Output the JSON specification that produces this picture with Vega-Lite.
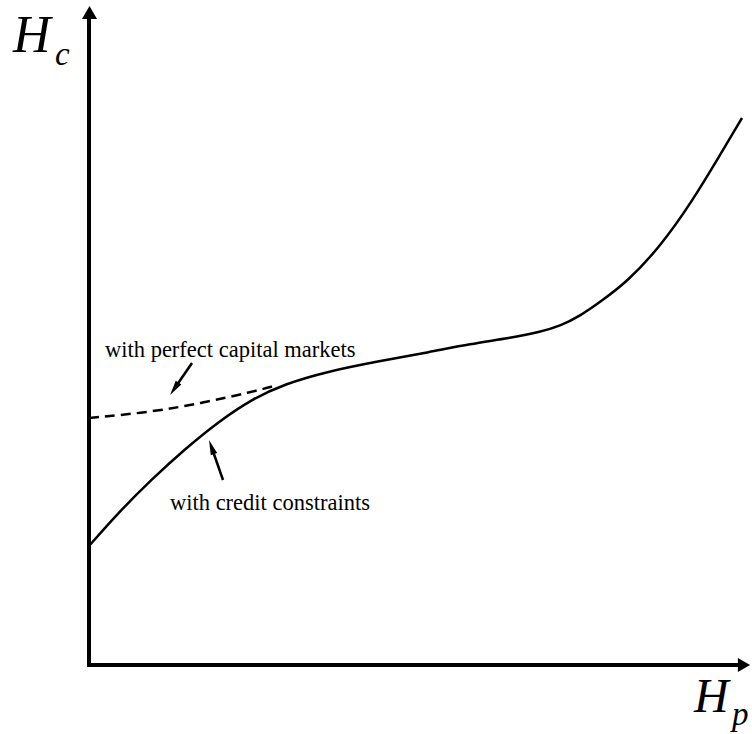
{
  "$schema": "https://vega.github.io/schema/vega-lite/v6.json",
  "width": 752,
  "height": 734,
  "autosize": "none",
  "padding": 0,
  "background": "white",
  "config": {"view": {"stroke": null}},
  "encoding": {
    "x": {"field": "x", "type": "quantitative", "scale": {"domain": [-89, 663], "nice": false, "zero": false}, "axis": null},
    "y": {"field": "y", "type": "quantitative", "scale": {"domain": [-69, 665], "nice": false, "zero": false}, "axis": null}
  },
  "layer": [
    {
      "data": {"values": [
        {"x": 0, "y": -2, "x2": 0, "y2": 650},
        {"x": -2, "y": 0, "x2": 652, "y2": 0}
      ]},
      "mark": {"type": "rule", "strokeWidth": 4, "color": "black", "strokeCap": "butt"},
      "encoding": {"x": {"field": "x", "type": "quantitative"}, "y": {"field": "y", "type": "quantitative"}, "x2": {"field": "x2"}, "y2": {"field": "y2"}}
    },
    {
      "data": {"values": [{"x": 0.5, "y": 652.5}]},
      "mark": {"type": "point", "shape": "triangle-up", "filled": true, "size": 225, "color": "black", "opacity": 1}
    },
    {
      "data": {"values": [{"x": 655, "y": 0}]},
      "mark": {"type": "point", "shape": "triangle-right", "filled": true, "size": 200, "color": "black", "opacity": 1}
    },
    {
      "data": {"values": [
        {"x": 0, "y": 119}, {"x": 29, "y": 152}, {"x": 63, "y": 186}, {"x": 96, "y": 216},
        {"x": 129, "y": 243}, {"x": 163, "y": 266}, {"x": 196, "y": 281}, {"x": 236, "y": 293},
        {"x": 291, "y": 304}, {"x": 341, "y": 313}, {"x": 381, "y": 321}, {"x": 421, "y": 327},
        {"x": 451, "y": 333}, {"x": 471, "y": 339}, {"x": 491, "y": 349}, {"x": 511, "y": 363},
        {"x": 538, "y": 383}, {"x": 571, "y": 418}, {"x": 604, "y": 465}, {"x": 631, "y": 510},
        {"x": 653, "y": 547}
      ]},
      "mark": {"type": "line", "interpolate": "basis", "strokeWidth": 2.5, "color": "black"}
    },
    {
      "data": {"values": [
        {"x": 0, "y": 247}, {"x": 63, "y": 253}, {"x": 113, "y": 262}, {"x": 163, "y": 273}, {"x": 185, "y": 279}
      ]},
      "mark": {"type": "line", "interpolate": "basis", "strokeWidth": 2.5, "color": "black", "strokeDash": [10, 6]}
    },
    {
      "data": {"values": [
        {"x": 103, "y": 302, "x2": 85.3, "y2": 276.2},
        {"x": 134, "y": 185, "x2": 122.5, "y2": 218}
      ]},
      "mark": {"type": "rule", "strokeWidth": 2.5, "color": "black"},
      "encoding": {"x": {"field": "x", "type": "quantitative"}, "y": {"field": "y", "type": "quantitative"}, "x2": {"field": "x2"}, "y2": {"field": "y2"}}
    },
    {
      "data": {"values": [{"x": 85.3, "y": 276.2}]},
      "mark": {"type": "point", "shape": "M0,-1L-0.45,1L0.45,1Z", "filled": true, "size": 225, "color": "black", "opacity": 1, "angle": 214.5}
    },
    {
      "data": {"values": [{"x": 122.5, "y": 218}]},
      "mark": {"type": "point", "shape": "M0,-1L-0.45,1L0.45,1Z", "filled": true, "size": 225, "color": "black", "opacity": 1, "angle": 340.7}
    },
    {
      "data": {"values": [
        {"x": 16, "y": 308, "label": "with perfect capital markets"},
        {"x": 81, "y": 155, "label": "with credit constraints"}
      ]},
      "mark": {"type": "text", "font": "Liberation Serif", "fontSize": 22.5, "align": "left", "baseline": "alphabetic", "color": "black"},
      "encoding": {"text": {"field": "label"}}
    },
    {
      "data": {"values": [
        {"x": -76, "y": 613, "label": "H"}
      ]},
      "mark": {"type": "text", "font": "Liberation Serif", "fontStyle": "italic", "fontSize": 52, "align": "left", "baseline": "alphabetic", "color": "black"},
      "encoding": {"text": {"field": "label"}}
    },
    {
      "data": {"values": [
        {"x": 605, "y": -47, "label": "H"}
      ]},
      "mark": {"type": "text", "font": "Liberation Serif", "fontStyle": "italic", "fontSize": 48, "align": "left", "baseline": "alphabetic", "color": "black"},
      "encoding": {"text": {"field": "label"}}
    },
    {
      "data": {"values": [
        {"x": -34, "y": 600, "label": "c"},
        {"x": 643, "y": -60, "label": "p"}
      ]},
      "mark": {"type": "text", "font": "Liberation Serif", "fontStyle": "italic", "fontSize": 33, "align": "left", "baseline": "alphabetic", "color": "black"},
      "encoding": {"text": {"field": "label"}}
    }
  ]
}
